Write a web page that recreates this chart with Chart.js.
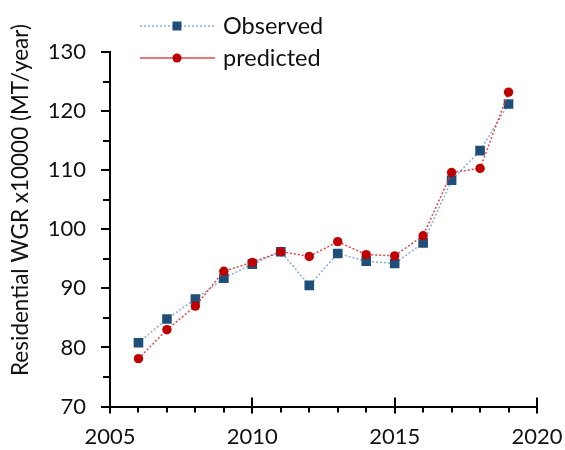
<!DOCTYPE html>
<html><head><meta charset="utf-8">
<script src="https://cdn.jsdelivr.net/npm/chart.js@4/dist/chart.umd.min.js"></script>
<style>html,body{margin:0;padding:0;background:#fff}#wrap{width:565px;height:450px}</style>
</head><body><div id="wrap"><canvas id="c" width="565" height="450"></canvas></div>
<script>
const years = [2006,2007,2008,2009,2010,2011,2012,2013,2014,2015,2016,2017,2018,2019];
const observed = [80.8,84.8,88.2,91.7,94.1,96.2,90.5,95.9,94.6,94.2,97.7,108.3,113.3,121.2];
const predicted = [78.1,83.0,87.0,92.9,94.4,96.2,95.4,97.9,95.7,95.5,98.9,109.6,110.3,123.2];
const seriesLabels = ['Observed','predicted'];
const yTitle = 'Residential WGR x10000 (MT/year)';
const xRange = [2005, 2020];
const yRange = [70, 130];

const FONT = 'Lato';
const TXT = '#111';

const extras = {
  id: 'extras',
  afterDraw(chart) {
    const ctx = chart.ctx;
    const xs = chart.scales.x, ys = chart.scales.y;
    const ca = chart.chartArea;
    ctx.save();
    ctx.strokeStyle = '#000';
    ctx.lineWidth = 2;
    for (let v = yRange[0]; v <= yRange[1]; v += 5) {
      const p = Math.round(ys.getPixelForValue(v));
      const len = (v % 10 === 0) ? 9 : 7;
      ctx.beginPath(); ctx.moveTo(ca.left - len, p); ctx.lineTo(ca.left, p); ctx.stroke();
    }
    for (let v = xRange[0]; v <= xRange[1]; v += 1) {
      const p = Math.round(xs.getPixelForValue(v));
      ctx.beginPath();
      if (v % 5 === 0) { ctx.moveTo(p, ca.bottom - 9); ctx.lineTo(p, ca.bottom + 7); }
      else { ctx.moveTo(p, ca.bottom); ctx.lineTo(p, ca.bottom + 6); }
      ctx.stroke();
    }
    ctx.fillStyle = TXT;
    ctx.font = '22.5px ' + FONT;
    ctx.textAlign = 'center';
    ctx.textBaseline = 'middle';
    ctx.translate(21, 200);
    ctx.rotate(-Math.PI / 2);
    ctx.fillText(yTitle, 0, 0);
    ctx.restore();

    ctx.save();
    const rows = [26, 58];
    chart.data.datasets.forEach((ds) => {
      const idx = seriesLabels.indexOf(ds.label);
      const y = rows[idx];
      ctx.strokeStyle = ds.borderColor;
      ctx.lineWidth = 1.5;
      ctx.setLineDash(idx === 0 ? [2, 2] : []);
      ctx.beginPath(); ctx.moveTo(140, y); ctx.lineTo(215, y); ctx.stroke();
      ctx.setLineDash([]);
      ctx.fillStyle = ds.pointBackgroundColor;
      if (ds.pointStyle === 'rect') {
        ctx.fillRect(177 - 4.5, y - 4.5, 9, 9);
      } else {
        ctx.beginPath(); ctx.arc(177, y, 4.5, 0, Math.PI * 2); ctx.fill();
      }
      ctx.fillStyle = TXT;
      ctx.font = '23.5px ' + FONT;
      ctx.textAlign = 'left';
      ctx.textBaseline = 'middle';
      ctx.fillText(ds.label, 223, y);
    });
    ctx.restore();
  }
};

new Chart(document.getElementById('c'), {
  type: 'line',
  data: {
    datasets: [
      {
        label: seriesLabels[0],
        data: years.map((x, i) => ({x, y: observed[i]})),
        borderColor: '#8FAADC', borderWidth: 1.5, borderDash: [2, 2],
        pointStyle: 'rect', pointRadius: 6.8, pointBackgroundColor: '#1F4E79',
        pointBorderColor: '#1F4E79', pointBorderWidth: 0,
        order: 2, tension: 0
      },
      {
        label: seriesLabels[1],
        data: years.map((x, i) => ({x, y: predicted[i]})),
        borderColor: '#E04848', borderWidth: 1.5, borderDash: [2, 2],
        pointStyle: 'circle', pointRadius: 4.7, pointBackgroundColor: '#C00000',
        pointBorderColor: '#C00000', pointBorderWidth: 0,
        order: 1, tension: 0
      }
    ]
  },
  options: {
    responsive: false, animation: false, devicePixelRatio: 1,
    layout: { padding: { top: 52, right: 28, left: 0, bottom: 0 } },
    plugins: { legend: { display: false }, tooltip: { enabled: false } },
    scales: {
      x: {
        type: 'linear', min: xRange[0], max: xRange[1],
        afterFit(s) { s.height = 43.5; s.paddingRight = 0; s.paddingLeft = 0; },
        grid: { display: false, drawTicks: true, tickLength: 7 },
        border: { display: true, color: '#000', width: 2 },
        ticks: {
          stepSize: 1, autoSkip: false, maxRotation: 0, padding: 10,
          color: TXT, font: { family: FONT, size: 22 },
          callback: v => (v % 5 === 0 ? String(v) : '')
        }
      },
      y: {
        min: yRange[0], max: yRange[1],
        afterFit(s) { s.width = 110; },
        grid: { display: false, drawTicks: true, tickLength: 9 },
        border: { display: true, color: '#000', width: 2 },
        ticks: {
          stepSize: 5, autoSkip: false, padding: 15,
          color: TXT, font: { family: FONT, size: 22 },
          callback: v => (v % 10 === 0 ? String(v) : '')
        }
      }
    }
  },
  plugins: [extras]
});
</script></body></html>
